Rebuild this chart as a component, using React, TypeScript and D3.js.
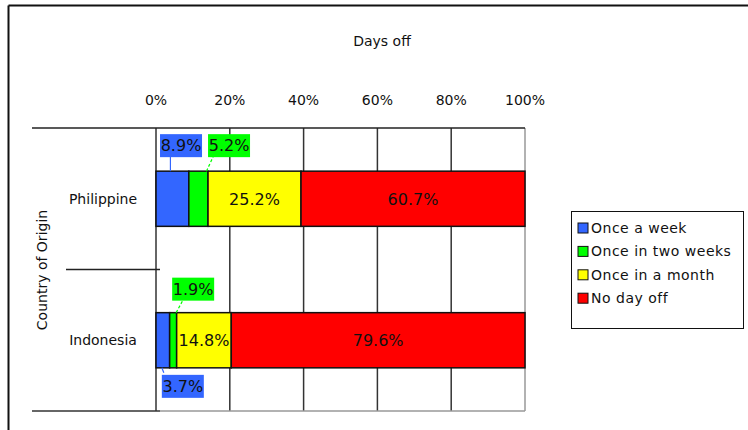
import React from "react";
import * as d3 from "d3";

const categories = ["Philippine", "Indonesia"];
const seriesNames = ["Once a week", "Once in two weeks", "Once in a month", "No day off"];
const philippineValues = [8.9, 5.2, 25.2, 60.7];
const indonesiaValues = [3.7, 1.9, 14.8, 79.6];
const tickValues = [0, 20, 40, 60, 80, 100];
const colors = ["#3366FF", "#00FF00", "#FFFF00", "#FF0000"];

const FONT = "'DejaVu Sans', Verdana, sans-serif";

export default function App() {
  const W = 748, H = 430;
  const x = d3.scaleLinear().domain([0, 100]).range([156, 525]);
  const y = d3.scaleBand<string>().domain(categories).range([128, 411]).paddingInner(0.61).paddingOuter(0.305);
  const data = [philippineValues, indonesiaValues];

  const stacks = data.map((vals) => {
    let acc = 0;
    return vals.map((v) => {
      const s = { x0: acc, x1: acc + v, v };
      acc += v;
      return s;
    });
  });

  const bw = y.bandwidth();

  type Lbl = { cx: number; cy: number; text: string; color: string; lx1: number; ly1: number; lx2: number; ly2: number; dashed: boolean };
  const extLabels: Lbl[] = [];
  {
    const top = y(categories[0])!;
    const s0 = stacks[0][0], s1 = stacks[0][1];
    const c0 = (x(s0.x0) + x(s0.x1)) / 2;
    const c1 = (x(s1.x0) + x(s1.x1)) / 2;
    extLabels.push({ cx: c0 + 8.6, cy: top - 26, text: s0.v.toFixed(1) + "%", color: colors[0], lx1: c0 - 2, ly1: top, lx2: c0 - 2, ly2: top - 15, dashed: false });
    extLabels.push({ cx: c1 + 30.6, cy: top - 26, text: s1.v.toFixed(1) + "%", color: colors[1], lx1: c1 + 8, ly1: top, lx2: c1 + 15, ly2: top - 15, dashed: true });
  }
  {
    const top = y(categories[1])!;
    const s0 = stacks[1][0], s1 = stacks[1][1];
    const c0 = (x(s0.x0) + x(s0.x1)) / 2;
    const c1 = (x(s1.x0) + x(s1.x1)) / 2;
    extLabels.push({ cx: c1 + 20, cy: top - 24, text: s1.v.toFixed(1) + "%", color: colors[1], lx1: c1 + 3, ly1: top, lx2: c1 + 10, ly2: top - 13, dashed: true });
    extLabels.push({ cx: c0 + 20, cy: top + bw + 18, text: s0.v.toFixed(1) + "%", color: colors[0], lx1: c0 - 1, ly1: top + bw, lx2: c0 + 1, ly2: top + bw + 5, dashed: false });
  }

  const plotTop = 128, plotBottom = 411;

  return (
    <svg width={W} height={H} style={{ position: "absolute", left: 0, top: 0 }} fontFamily={FONT}>
      <rect x={0} y={0} width={W} height={H} fill="#ffffff" />
      <line x1={8.5} y1={5.5} x2={W} y2={5.5} stroke="#111" strokeWidth={2} />
      <line x1={8.5} y1={5.5} x2={8.5} y2={H} stroke="#111" strokeWidth={2} />

      <text x={382} y={46} textAnchor="middle" fontSize={14} fill="#111">Days off</text>

      {tickValues.map((t) => (
        <text key={"tl" + t} x={x(t)} y={105} textAnchor="middle" fontSize={14} fill="#111">{t}%</text>
      ))}

      {tickValues.map((t) => (
        <line key={"g" + t} x1={x(t)} x2={x(t)} y1={plotTop} y2={plotBottom}
          stroke={t === 100 ? "#999" : "#333"} strokeWidth={1.5} />
      ))}
      <line x1={32} x2={x(100)} y1={plotTop} y2={plotTop} stroke="#222" strokeWidth={1.5} />
      <line x1={32} x2={x(0) + 4} y1={plotBottom} y2={plotBottom} stroke="#333" strokeWidth={1.5} />
      <line x1={x(0) + 4} x2={x(100)} y1={plotBottom} y2={plotBottom} stroke="#999" strokeWidth={1.5} />
      <line x1={66} x2={x(0) + 4} y1={(plotTop + plotBottom) / 2} y2={(plotTop + plotBottom) / 2} stroke="#222" strokeWidth={1.5} />

      <text transform={`translate(47,270) rotate(-90)`} textAnchor="middle" fontSize={14} fill="#111">Country of Origin</text>

      {categories.map((c) => (
        <text key={"c" + c} x={103} y={y(c)! + bw / 2 + 5} textAnchor="middle" fontSize={14} fill="#111">{c}</text>
      ))}

      {stacks.map((segs, ci) =>
        segs.map((s, si) => (
          <rect key={`b${ci}-${si}`} x={x(s.x0)} y={y(categories[ci])!} width={x(s.x1) - x(s.x0)} height={bw}
            fill={colors[si]} stroke="#111" strokeWidth={1.5} />
        ))
      )}
      {stacks.map((segs, ci) =>
        segs.map((s, si) =>
          si >= 2 ? (
            <text key={`l${ci}-${si}`} x={(x(s.x0) + x(s.x1)) / 2} y={y(categories[ci])! + bw / 2 + 6}
              textAnchor="middle" fontSize={16} fill="#111">{s.v.toFixed(1)}%</text>
          ) : null
        )
      )}
      {extLabels.map((l, i) => (
        <g key={"e" + i}>
          <line x1={l.lx1} y1={l.ly1} x2={l.lx2} y2={l.ly2} stroke={l.color} strokeWidth={1.2}
            strokeDasharray={l.dashed ? "3,2" : undefined} />
          <rect x={l.cx - 21} y={l.cy - 11} width={42} height={23} fill={l.color} />
          <text x={l.cx} y={l.cy + 6} textAnchor="middle" fontSize={16} fill="#111">{l.text}</text>
        </g>
      ))}

      <rect x={571.5} y={211.5} width={172} height={117} fill="#fff" stroke="#111" strokeWidth={1} />
      {seriesNames.map((n, i) => (
        <g key={"lg" + n} transform={`translate(578,${228 + i * 23.4})`}>
          <rect x={0} y={-5} width={10} height={10} fill={colors[i]} stroke="#111" strokeWidth={1} />
          <text x={13} y={5} fontSize={14} letterSpacing={0.5} fill="#111">{n}</text>
        </g>
      ))}
    </svg>
  );
}
